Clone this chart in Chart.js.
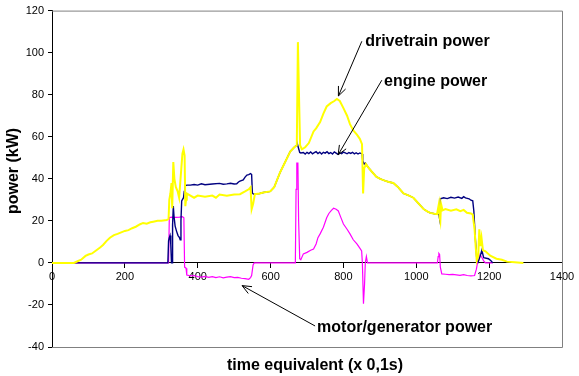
<!DOCTYPE html>
<html lang="en">
<head>
<meta charset="UTF-8">
<title>Power split</title>
<script src="https://cdn.jsdelivr.net/npm/chart.js"></script>
<style>
  html, body { margin: 0; padding: 0; background: #fff; }
</style>
</head>
<body>
<canvas id="powerChart" width="579" height="376"></canvas>
<script>
// time axis (x 0,1 s) and power (kW)
const driveT = [0, 60, 70, 80, 92, 100, 110, 120, 132, 140, 150, 159, 170, 180, 190, 200, 210, 220, 230, 242, 250, 260, 270, 278, 290, 300, 315,
  320, 322, 325, 328, 330, 333, 336, 340, 345, 349, 352, 355, 358, 361, 364, 366, 368, 370, 380, 390, 400, 420, 440, 450, 460, 480, 500, 516, 530, 540, 545,
  548, 552, 557, 570, 580, 599, 610, 626, 640, 654, 665, 672, 675, 678, 681, 686, 695, 705, 718, 725, 736, 745, 754, 765, 775, 782, 790, 800, 810, 818, 827, 837, 845, 851,
  854, 857, 862, 870, 880, 890, 901, 915, 925, 937, 950, 965, 980, 992, 1005, 1020, 1030, 1038, 1050, 1057, 1062, 1064, 1066, 1068, 1072, 1080, 1095, 1110, 1121, 1130, 1139, 1150, 1155,
  1160, 1163, 1166, 1170, 1173, 1176, 1179, 1183, 1190, 1203, 1220, 1235, 1249, 1270, 1294];
const driveP = [0, 0, 0.8, 1.5, 3.3, 4, 4.5, 5.8, 7.3, 8.5, 10.5, 12, 13.2, 13.8, 14.5, 15.2, 15.6, 16.5, 17.2, 18.4, 19, 18.6, 19.3, 19.6, 20, 20.1, 20.4,
  21, 30, 33, 38, 26, 48, 40, 36, 34, 31, 38, 45, 52, 54, 51, 27, 30, 33, 32, 31, 32, 31.5, 32, 31, 32.5, 32, 32.5, 32.7, 34, 35, 36,
  25.5, 28, 32.7, 33, 33.5, 34, 36, 43, 48, 53, 55, 56, 105, 80, 56, 54, 55, 57, 62.5, 64, 67, 71, 74.4, 76, 77, 78, 77, 73.6, 70, 66, 63, 61, 59, 56.5,
  33, 45, 47, 45, 43, 41, 40, 39, 38.5, 38, 36, 33, 32, 31, 28.5, 25.6, 24.5, 23.8, 23.4, 23.2, 28, 22, 20, 28, 25, 25.6, 24.8, 25.5, 24.6, 25.2, 23.8, 23.5, 23,
  16, 8, 1, 3, 16, 8, 12, 6, 5.5, 3.4, 2, 1.5, 0.6, 0.3, 0];

const engineT = [0, 318, 320, 322, 324, 326, 328, 330, 331, 333, 335, 338, 342, 346, 350, 352, 354, 356, 361, 363, 365, 370, 380, 390, 400, 410, 420, 440, 460, 470, 480, 490, 500, 507, 512, 516, 525, 530, 535, 540, 545,
  548, 550, 553, 557, 570, 580, 599, 610, 626, 640, 654, 665, 672, 673, 676, 680, 683, 690, 695, 700, 705, 710, 715, 720, 725, 730, 735, 740, 745, 750, 755, 760, 765, 770, 775, 780, 785, 790, 795, 800, 805, 810, 815, 820, 825, 830, 835, 840, 845, 851,
  853, 857, 860, 862, 870, 880, 890, 901, 915, 925, 937, 950, 965, 980, 992, 1005, 1020, 1030, 1038, 1050, 1057, 1062, 1064, 1066, 1075, 1085, 1095, 1105, 1115, 1125, 1130, 1135, 1145, 1150, 1155,
  1158, 1162, 1166, 1170, 1175, 1180, 1185, 1198, 1205, 1210];
const engineP = [0, 0, 10.5, 12, 13, 9, 0, 0, 18, 27, 22, 17.5, 15, 13, 12, 11, 20, 29.5, 31, 34, 36.6, 37, 37, 37.3, 37, 37.6, 37.2, 37.5, 37.8, 37.4, 37.6, 37.9, 37.5, 37.6, 38.5, 38.9, 39.5, 40.8, 41.8, 42, 42.5,
  42, 33.3, 32.7, 32.7, 33, 33.5, 34, 36, 43, 48, 53, 55, 56, 57, 55, 52.5, 52.3, 52.5, 51.8, 52.6, 52, 52.8, 51.9, 52.4, 52.9, 52, 52.7, 51.8, 52.6, 52.2, 52.9, 52, 52.5, 51.8, 52.8, 52.2, 51.6, 52.4, 52, 52.7, 52.3, 51.9, 52.5, 52.1, 52.6, 51.9, 52.4, 51.8, 52.3, 51.8,
  48.5, 47, 47.5, 47, 45, 43, 41, 40, 39, 38.5, 38, 36, 33, 32, 31, 28.5, 25.6, 24.5, 23.8, 23.4, 23.2, 23, 21, 30.5, 31, 30.6, 31.2, 30.8, 31.3, 30.7, 31.5, 30.9, 30.5, 29.8, 29.5,
  24.7, 12, 2, 0.5, 3, 6, 2.5, 2, 1, 0];

const motorT = [0, 320, 322, 330, 340, 350, 358, 362, 364, 368, 370, 380, 390, 400, 410, 420, 430, 440, 450, 460, 470, 480, 490, 500, 510, 520, 530, 540, 545, 548, 552, 555,
  668, 670, 672, 675, 677, 680, 683, 690, 700, 710, 718, 725, 730, 736, 745, 754, 760, 767, 773, 780, 786, 792, 800, 810, 818, 827, 837, 845, 850, 852, 855, 858, 860, 863, 866,
  1058, 1060, 1062, 1064, 1066, 1070, 1080, 1090, 1100, 1110, 1120, 1130, 1140, 1150, 1160, 1165, 1168, 1175, 1180, 1185, 1190, 1210];
const motorP = [0, 0, 21.6, 21.8, 21.7, 21.8, 22, 21.5, -2, -2.5, -5.8, -6.2, -6, -6.5, -6.8, -6.4, -6.9, -6.5, -7, -6.6, -7.1, -6.8, -6.5, -7, -6.9, -7.3, -7.5, -7.8, -7, -6, -1, 0,
  0, 35, 47.5, 47.5, 20, 2, 1.5, 4.3, 5, 6, 6.6, 9, 12, 13.8, 17, 21.5, 23.5, 25, 26, 25.5, 24.7, 22, 18.5, 16, 13.8, 11, 9, 7, 5.7, 0, -19.4, -10, 0, 3, 0,
  0, 3, 4.5, 4, -2, -5.2, -5.4, -5.6, -5.5, -5.7, -5.9, -5.6, -6, -6.2, -6, -3, 0, 4, 2.6, 1, 0, 0];

const xTicks = [0, 200, 400, 600, 800, 1000, 1200, 1400];
const yTicks = [-40, -20, 0, 20, 40, 60, 80, 100, 120];

// labels with arrows, in data units: text anchor, line start, arrow tip
const notes = [
  { text: 'drivetrain power', tx: 859.6, ty: 103.1, lx: 850.5, ly: 105.4, ax: 786.2, ay: 79.4 },
  { text: 'engine power', tx: 911.7, ty: 84.1, lx: 905.4, ly: 86.9, ax: 785.4, ay: 51.4 },
  { text: 'motor/generator power', tx: 727.7, ty: -33.1, lx: 722.2, ly: -30.0, ax: 521.8, ay: -10.8 }
];

const FONT = '"Liberation Sans", Arial, sans-serif';

function pts(ts, ps) {
  return ts.map((t, i) => ({ x: t, y: ps[i] }));
}

const extras = {
  id: 'extras',
  beforeDatasetsDraw(chart) {
    const { ctx, chartArea: a } = chart;
    ctx.save();
    ctx.strokeStyle = '#808080';
    ctx.lineWidth = 1;
    ctx.beginPath();
    ctx.moveTo(a.left, a.top + 0.5);
    ctx.lineTo(a.right + 0.5, a.top + 0.5);
    ctx.lineTo(a.right + 0.5, a.bottom + 0.5);
    ctx.lineTo(a.left, a.bottom + 0.5);
    ctx.stroke();
    ctx.restore();
  },
  afterDraw(chart) {
    const { ctx } = chart;
    const xs = chart.scales.x, ys = chart.scales.y;
    ctx.save();
    ctx.fillStyle = '#000';
    ctx.strokeStyle = '#000';
    ctx.lineWidth = 1;
    ctx.font = 'bold 16px ' + FONT;

    notes.forEach(n => {
      const tx = xs.getPixelForValue(n.tx), ty = ys.getPixelForValue(n.ty);
      const lx = xs.getPixelForValue(n.lx), ly = ys.getPixelForValue(n.ly);
      const ax = xs.getPixelForValue(n.ax), ay = ys.getPixelForValue(n.ay);
      ctx.textAlign = 'left';
      ctx.textBaseline = 'alphabetic';
      ctx.fillText(n.text, tx, ty);
      ctx.beginPath();
      ctx.moveTo(lx, ly);
      ctx.lineTo(ax, ay);
      const ang = Math.atan2(ly - ay, lx - ax);
      const w = 10, spread = 0.4;
      ctx.moveTo(ax + w * Math.cos(ang - spread), ay + w * Math.sin(ang - spread));
      ctx.lineTo(ax, ay);
      ctx.lineTo(ax + w * Math.cos(ang + spread), ay + w * Math.sin(ang + spread));
      ctx.stroke();
    });

    // axis titles
    ctx.textAlign = 'center';
    ctx.textBaseline = 'alphabetic';
    ctx.fillText('time equivalent (x 0,1s)', 315, 370);
    ctx.translate(18, 171);
    ctx.rotate(-Math.PI / 2);
    ctx.fillText('power (kW)', 0, 0);
    ctx.restore();
  }
};

new Chart(document.getElementById('powerChart'), {
  type: 'line',
  data: {
    datasets: [
      { label: 'drivetrain power', data: pts(driveT, driveP), borderColor: '#FFFF00', borderWidth: 2 },
      { label: 'engine power', data: pts(engineT, engineP), borderColor: '#000080', borderWidth: 1.4 },
      { label: 'motor/generator power', data: pts(motorT, motorP), borderColor: '#FF00FF', borderWidth: 1.2 }
    ]
  },
  options: {
    responsive: false,
    animation: false,
    layout: { padding: { top: 9, right: 17, bottom: 29, left: 0 } },
    elements: { point: { radius: 0 }, line: { tension: 0, fill: false } },
    plugins: { legend: { display: false }, tooltip: { enabled: false } },
    scales: {
      x: {
        type: 'linear',
        position: { y: 0 },
        min: 0,
        max: 1400,
        afterBuildTicks: s => { s.ticks = xTicks.map(v => ({ value: v })); },
        ticks: { color: '#000', font: { family: FONT, size: 11 }, padding: 2, maxRotation: 0, autoSkip: false, callback: v => String(v) },
        grid: { drawOnChartArea: false, tickLength: 5, color: '#000' },
        border: { color: '#000' }
      },
      y: {
        min: -40,
        max: 120,
        afterBuildTicks: s => { s.ticks = yTicks.map(v => ({ value: v })); },
        afterFit: s => { s.width = 52; },
        ticks: { color: '#000', font: { family: FONT, size: 11 }, padding: 4, autoSkip: false, callback: v => String(v) },
        grid: { drawOnChartArea: false, tickLength: 4, color: '#000' },
        border: { color: '#000' }
      }
    }
  },
  plugins: [extras]
});
</script>
</body>
</html>
